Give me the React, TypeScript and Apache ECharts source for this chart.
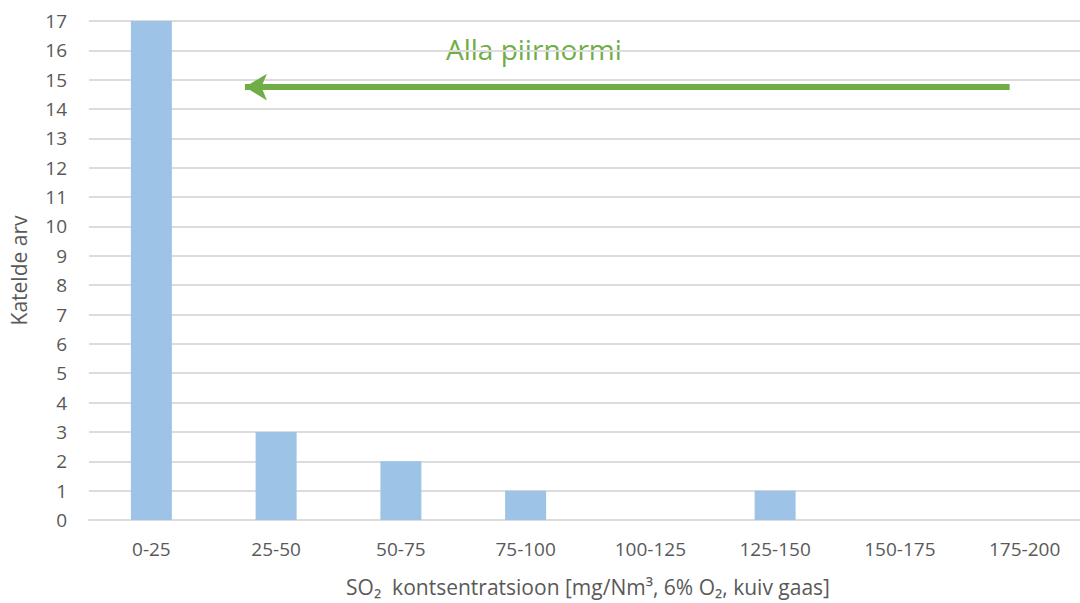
import React, { useEffect, useRef } from "react";
import * as echarts from "echarts";

// Concentration classes and number of boilers in each class
const categories = ["0-25", "25-50", "50-75", "75-100", "100-125", "125-150", "150-175", "175-200"];
const boilerCounts = [17, 3, 2, 1, 0, 1, 0, 0];

// Arrow showing the range below the emission limit (x in category units, y in count units)
const arrowStart = [7.38, 14.75];
const arrowEnd = [1.25, 14.75];
const arrowLabel = "Alla piirnormi";

const FONT = "'Open Sans', 'Noto Sans', 'Liberation Sans', sans-serif";
const GREEN = "#70AD47";
const GREY_TEXT = "#595959";

export default function App() {
  const ref = useRef<HTMLDivElement>(null);

  useEffect(() => {
    if (!ref.current) return;
    const chart = echarts.init(ref.current, null, { renderer: "svg" });
    chart.setOption({
      animation: false,
      backgroundColor: "#ffffff",
      textStyle: { fontFamily: FONT },
      grid: { left: 89, width: 998, top: 21, height: 499, outerBoundsMode: "none", containLabel: false },
      xAxis: [
        {
          type: "category",
          data: categories,
          axisLine: { show: true, lineStyle: { color: "#dcdcdc", width: 2 } },
          axisTick: { show: false },
          axisLabel: { color: GREY_TEXT, fontSize: 19, margin: 19, fontFamily: FONT },
          name: "SO\u2082  kontsentratsioon [mg/Nm\u00B3, 6% O\u2082, kuiv gaas]",
          nameLocation: "middle",
          nameGap: 56,
          nameTextStyle: { fontSize: 21, color: GREY_TEXT, fontFamily: FONT },
        },
        {
          type: "value",
          min: 0,
          max: 8,
          show: false,
        },
      ],
      yAxis: {
        type: "value",
        min: 0,
        max: 17,
        interval: 1,
        axisLine: { show: false },
        axisTick: { show: false },
        splitLine: { lineStyle: { color: "#dcdcdc", width: 2 } },
        axisLabel: { color: GREY_TEXT, fontSize: 19, margin: 22, fontFamily: FONT },
        name: "Katelde arv",
        nameLocation: "middle",
        nameGap: 60,
        nameTextStyle: { fontSize: 21, color: GREY_TEXT, fontFamily: FONT },
      },
      series: [
        {
          type: "bar",
          data: boilerCounts,
          barWidth: 41,
          itemStyle: { color: "#9DC3E6" },
        },
        {
          type: "line",
          xAxisIndex: 1,
          data: [],
          markLine: {
            silent: true,
            symbol: ["none", "arrow"],
            symbolSize: [20, 22],
            label: { show: false },
            lineStyle: { color: GREEN, width: 6, type: "solid" },
            data: [[{ coord: arrowStart }, { coord: arrowEnd }]],
          },
        },
      ],
      graphic: [
        {
          type: "text",
          left: 446,
          top: 35,
          style: { text: arrowLabel, fill: GREEN, fontSize: 28, fontFamily: FONT },
        },
      ],
    });
    return () => chart.dispose();
  }, []);

  return (
    <div
      ref={ref}
      style={{ position: "fixed", left: 0, top: 0, width: 1080, height: 603, background: "#fff" }}
    />
  );
}
